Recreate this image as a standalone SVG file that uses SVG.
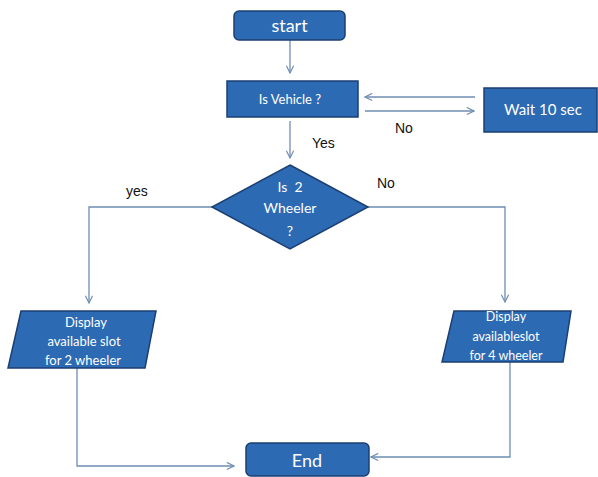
<svg xmlns="http://www.w3.org/2000/svg" width="598" height="477" viewBox="0 0 598 477">
<style>
.node{fill:#2d6ab4;stroke:#1b3f72;stroke-width:1.5}
.nt{fill:#ffffff;font-family:Lato,"Open Sans",sans-serif;text-anchor:middle}
.lbl{fill:#111111;font-family:"Liberation Sans",Arial,sans-serif;font-size:14px}
.conn{fill:none;stroke:#6f8db3;stroke-width:1.3}
</style>
<defs>
<marker id="ah" viewBox="0 0 10 10" refX="9" refY="5" markerWidth="9" markerHeight="9" markerUnits="userSpaceOnUse" orient="auto">
<path d="M1,1 L9,5 L1,9" fill="none" stroke="#6f8db3" stroke-width="1.3"/>
</marker>
</defs>
<rect width="598" height="477" fill="#ffffff"/>
<g id="connectors">
<line class="conn" x1="290" y1="40" x2="290" y2="73" marker-end="url(#ah)"/>
<line class="conn" x1="475" y1="97" x2="365" y2="97" marker-end="url(#ah)"/>
<line class="conn" x1="365" y1="111" x2="474" y2="111" marker-end="url(#ah)"/>
<line class="conn" x1="290" y1="121" x2="290" y2="158" marker-end="url(#ah)"/>
<polyline class="conn" points="212,207 89,207 89,303" marker-end="url(#ah)"/>
<polyline class="conn" points="368,207 505,207 505,302" marker-end="url(#ah)"/>
<polyline class="conn" points="77,368 77,466 234,466" marker-end="url(#ah)"/>
<polyline class="conn" points="510,362 510,457 371,457" marker-end="url(#ah)"/>
<text class="lbl" x="395" y="133">No</text>
<text class="lbl" x="312" y="148">Yes</text>
<text class="lbl" x="126" y="196">yes</text>
<text class="lbl" x="377" y="188">No</text>
</g>
<g id="start">
<rect class="node" x="234" y="11" width="111" height="29" rx="5"/>
<text class="nt" x="289.5" y="32" font-size="18">start</text>
</g>
<g id="is-vehicle">
<rect class="node" x="227" y="81" width="131" height="36"/>
<text class="nt" x="290" y="104" font-size="13">Is Vehicle ?</text>
</g>
<g id="wait">
<rect class="node" x="484" y="88" width="113" height="44"/>
<text class="nt" x="543" y="115" font-size="15">Wait 10 sec</text>
</g>
<g id="is-2-wheeler">
<polygon class="node" points="290,165 368,207 290,249 212,207"/>
<text class="nt" x="290" y="192" font-size="14" xml:space="preserve">Is  2</text>
<text class="nt" x="290" y="213" font-size="14">Wheeler</text>
<text class="nt" x="290" y="236" font-size="14">?</text>
</g>
<g id="display-2">
<polygon class="node" points="21,311 156,311 145,368 8,368"/>
<text class="nt" x="86" y="327" font-size="13">Display</text>
<text class="nt" x="84" y="346" font-size="13">available slot</text>
<text class="nt" x="83" y="365" font-size="13">for 2 wheeler</text>
</g>
<g id="display-4">
<polygon class="node" points="454,311 571,311 563,362 442,362"/>
<text class="nt" x="506" y="321" font-size="12.5">Display</text>
<text class="nt" x="506" y="341" font-size="12.5">availableslot</text>
<text class="nt" x="506" y="360" font-size="12.5">for 4 wheeler</text>
</g>
<g id="end">
<rect class="node" x="246" y="443" width="123" height="33" rx="5"/>
<text class="nt" x="307" y="467" font-size="18">End</text>
</g>
</svg>
